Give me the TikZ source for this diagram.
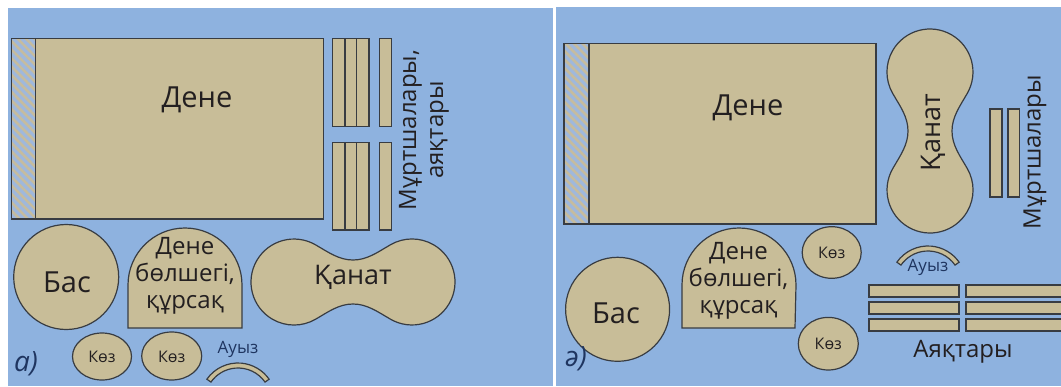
\documentclass[tikz,border=0pt]{standalone}
\usepackage{fontspec}
\setmainfont{Open Sans}
\usetikzlibrary{patterns.meta}
\definecolor{bgblue}{HTML}{8EB2DF}
\definecolor{piecetan}{HTML}{C8BD98}
\definecolor{edgec}{HTML}{383C42}
\definecolor{inkc}{HTML}{231F20}
\definecolor{navyc}{HTML}{1F3560}
\definecolor{hatchbase}{HTML}{9FB8DC}
\definecolor{hatchline}{HTML}{C6BC9E}
\newcommand{\dumbbellpath}{%
  (-37.5,-37.2) arc[start angle=60,end angle=300,radius=43pt]
  .. controls (-24.5,29.7) and (-14,22) .. (0,22)
  .. controls (14,22) and (24.5,29.7) .. (37.5,37.2)
  arc[start angle=240,end angle=480,radius=43pt]
  .. controls (24.5,-29.7) and (14,-22) .. (0,-22)
  .. controls (-14,-22) and (-24.5,-29.7) .. cycle}
\newcommand{\archpath}[2]{% left x, right x
  (#1,328) -- (#1,285) arc[start angle=180,end angle=0,radius=57pt] -- (#2,328) -- cycle}
\newcommand{\mouthpath}{%
  ([shift={(145:38pt)}]0,0) arc[start angle=145,end angle=35,radius=38pt]
  -- ([shift={(35:33pt)}]0,0) arc[start angle=35,end angle=145,radius=33pt] -- cycle}
\begin{document}
\begin{tikzpicture}[x=1pt,y=-1pt,
  piece/.style={fill=piecetan,draw=edgec,line width=1.2pt},
  hatchfill/.style={fill=hatchbase,postaction={pattern={Lines[angle=-45,distance=6pt,line width=2.6pt]},pattern color=hatchline}},
  bigtxt/.style={text=inkc,font=\fontsize{29}{34}\selectfont,inner sep=0pt},
  midtxt/.style={text=inkc,font=\fontsize{24}{27}\selectfont,inner sep=0pt,align=center},
  smalltxt/.style={text=inkc,font=\fontsize{16}{19}\selectfont,inner sep=0pt},
  mouthtxt/.style={text=navyc,font=\fontsize{17}{20}\selectfont,inner sep=0pt},
  tagtxt/.style={text=navyc,font=\itshape\fontsize{28}{32}\selectfont,inner sep=0pt}]
\useasboundingbox (0,0) rectangle (1061,386);
\fill[white] (0,0) rectangle (1061,386);
% panels
\fill[bgblue] (8,8) rectangle (553,386);
\fill[bgblue] (556,7) rectangle (1061,386);

% ================= LEFT PANEL =================
\fill[hatchfill] (11.7,38.3) rectangle (35.7,219);
\draw[edgec,line width=1.2pt] (11.7,38.3) rectangle (35.7,219);
\draw[piece] (35.7,38.3) rectangle (323.3,219);
\node[bigtxt] (deneA) at (197,100) {Дене};
% strips
\foreach \r/\a/\b in {1/38.3/126.7,2/142.7/230}{
  \draw[piece] (332.7,\a) rectangle (345,\b);
  \draw[piece] (345,\a) rectangle (356.7,\b);
  \draw[piece] (356.7,\a) rectangle (369,\b);
  \draw[piece] (379.3,\a) rectangle (391.7,\b);
}
\node[midtxt,rotate=90] (murtA) at (424,130) {Мұртшалары,\\аяқтары};
% head
\draw[piece] (66.2,277) circle[radius=52.5pt];
\node[bigtxt] (basA) at (67,282) {Бас};
% body part
\draw[piece] \archpath{128}{242};
\node[midtxt] (bolA) at (185,276) {Дене\\бөлшегі,\\құрсақ};
% wing
\begin{scope}[shift={(353,282)}]
\draw[piece] \dumbbellpath;
\end{scope}
\node[bigtxt,font=\fontsize{27}{32}\selectfont] (qanA) at (353,277) {Қанат};
% eyes
\draw[piece] (102,356.5) ellipse[x radius=29.5pt,y radius=23.5pt];
\node[smalltxt] (kozA1) at (102,357) {Көз};
\draw[piece] (171.7,356) ellipse[x radius=30pt,y radius=24pt];
\node[smalltxt] (kozA2) at (171.7,357) {Көз};
% mouth
\begin{scope}[shift={(238,401)}]
\draw[piece] \mouthpath;
\end{scope}
\node[mouthtxt] (auyzA) at (238,349) {Ауыз};
\node[tagtxt] (tagA) at (26,364) {а)};

% ================= RIGHT PANEL =================
\fill[hatchfill] (564,43.3) rectangle (589,224);
\draw[edgec,line width=1.2pt] (564,43.3) rectangle (589,224);
\draw[piece] (589,43.3) rectangle (876,224);
\node[bigtxt] (deneB) at (748,108) {Дене};
% wing vertical
\begin{scope}[shift={(930,131)},rotate=90]
\draw[piece] \dumbbellpath;
\end{scope}
\node[bigtxt,font=\fontsize{27}{32}\selectfont,rotate=90] (qanB) at (933,133) {Қанат};
% whiskers
\draw[piece] (990,109) rectangle (1002,197);
\draw[piece] (1008,109) rectangle (1019.5,197);
\node[midtxt,rotate=90] (murtB) at (1035,152) {Мұртшалары};
% head
\draw[piece] (617.6,309.3) circle[radius=52pt];
\node[bigtxt] (basB) at (616,313) {Бас};
% body part
\draw[piece] \archpath{682}{795};
\node[midtxt] (bolB) at (738.5,281) {Дене\\бөлшегі,\\құрсақ};
% eyes
\draw[piece] (831.7,252.5) ellipse[x radius=29.5pt,y radius=25.8pt];
\node[smalltxt] (kozB1) at (831.7,253) {Көз};
\draw[piece] (828.3,343.7) ellipse[x radius=30pt,y radius=26.3pt];
\node[smalltxt] (kozB2) at (828.3,344) {Көз};
% mouth
\begin{scope}[shift={(928,284)}]
\draw[piece] \mouthpath;
\end{scope}
\node[mouthtxt] (auyzB) at (928,267) {Ауыз};
% legs
\foreach \a/\b in {285/297,302/314,319/331}{
  \draw[piece] (869,\a) rectangle (959,\b);
  \draw[piece] (966,\a) rectangle (1070,\b);
}
\node[midtxt] (ayaqB) at (963,352) {Аяқтары};
\node[tagtxt] (tagB) at (576,359) {ә)};
\end{tikzpicture}
\end{document}
